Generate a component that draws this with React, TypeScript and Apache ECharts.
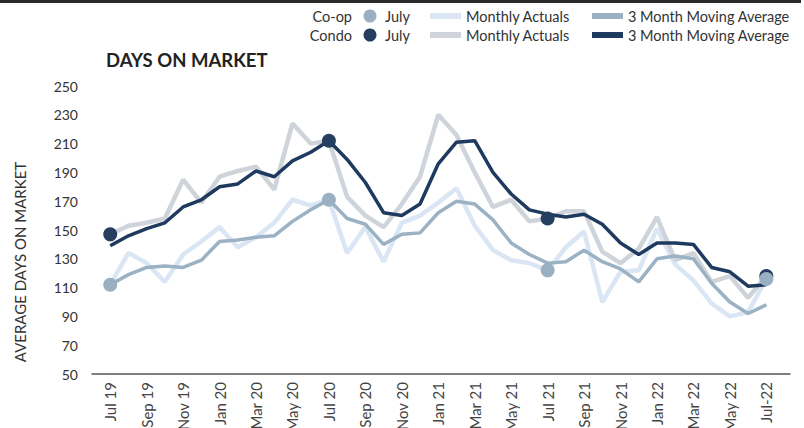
import React, { useEffect, useRef } from "react";
import * as echarts from "echarts";

const months: string[] = [
  "Jul 19","Aug 19","Sep 19","Oct 19","Nov 19","Dec 19",
  "Jan 20","Feb 20","Mar 20","Apr 20","May 20","Jun 20",
  "Jul 20","Aug 20","Sep 20","Oct 20","Nov 20","Dec 20",
  "Jan 21","Feb 21","Mar 21","Apr 21","May 21","Jun 21",
  "Jul 21","Aug 21","Sep 21","Oct 21","Nov 21","Dec 21",
  "Jan 22","Feb 22","Mar 22","Apr 22","May 22","Jun 22","Jul-22",
];

const tickLabels: string[] = [
  "Jul 19","Sep 19","Nov 19","Jan 20","Mar 20","May 20","Jul 20","Sep 20","Nov 20",
  "Jan 21","Mar 21","May 21","Jul 21","Sep 21","Nov 21","Jan 22","Mar 22","May 22","Jul-22",
];

const coopActual: number[] = [
  112, 134, 127, 114, 133, 142, 152, 138, 145, 155, 171, 167,
  171, 134, 152, 128, 155, 160, 169, 179, 153, 136, 129, 127,
  122, 138, 149, 100, 121, 122, 151, 126, 115, 99, 90, 93, 116,
];
const coopMA: number[] = [
  112, 119, 124, 125, 124, 129, 142, 143, 145, 146, 156, 164,
  171, 158, 154, 140, 147, 148, 162, 170, 168, 157, 141, 133,
  127, 128, 136, 128, 123, 114, 130, 132, 130, 113, 100, 92, 98,
];
const condoActual: number[] = [
  147, 153, 155, 158, 185, 169, 187, 191, 194, 178, 224, 210,
  212, 173, 160, 152, 168, 187, 230, 216, 190, 166, 171, 156,
  158, 163, 163, 135, 127, 137, 159, 129, 134, 114, 118, 103, 118,
];
const condoMA: number[] = [
  139, 146, 151, 155, 166, 171, 180, 182, 191, 187, 198, 204,
  212, 199, 183, 162, 160, 168, 196, 211, 212, 190, 175, 164,
  161, 159, 161, 154, 141, 133, 141, 141, 140, 124, 121, 111, 112,
];
const julyIdx: number[] = [0, 12, 24, 36];

const C_COOP_ACT = "#dbe6f4";
const C_COOP_MA = "#9bb1c4";
const C_CONDO_ACT = "#cfd4da";
const C_CONDO_MA = "#1f3a5f";
const C_COOP_DOT = "#9ab0c2";
const C_CONDO_DOT = "#263f60";
const FONT = "Lato, 'Open Sans', sans-serif";

const pairs = (arr: number[]) => arr.map((v, i) => [i, v]);

export default function App() {
  const ref = useRef<HTMLDivElement>(null);
  useEffect(() => {
    if (!ref.current) return;
    const chart = echarts.init(ref.current, null, { renderer: "svg" });
    const legendRow = (y: number, label: string, dot: string, act: string, ma: string) => [
      { type: "text", x: 352, y, style: { text: label, fill: "#333", font: `14.5px ${FONT}`, align: "right", verticalAlign: "middle" } },
      { type: "circle", shape: { cx: 370, cy: y, r: 6.5 }, style: { fill: dot } },
      { type: "text", x: 385, y, style: { text: "July", fill: "#333", font: `14.5px ${FONT}`, verticalAlign: "middle" } },
      { type: "rect", shape: { x: 430, y: y - 3, width: 31, height: 6 }, style: { fill: act } },
      { type: "text", x: 466, y, style: { text: "Monthly Actuals", fill: "#333", font: `14.5px ${FONT}`, verticalAlign: "middle" } },
      { type: "rect", shape: { x: 592, y: y - 3, width: 31, height: 6 }, style: { fill: ma } },
      { type: "text", x: 628, y, style: { text: "3 Month Moving Average", fill: "#333", font: `14.5px ${FONT}`, verticalAlign: "middle" } },
    ];
    chart.setOption({
      animation: false,
      backgroundColor: "#ffffff",
      textStyle: { fontFamily: FONT },
      grid: { left: 92, right: 14, top: 86, bottom: 54, containLabel: false, outerBoundsMode: "none" },
      xAxis: {
        type: "value",
        min: -1,
        max: 37.3,
        splitLine: { show: false },
        axisLine: { show: true, onZero: false, lineStyle: { color: "#555", width: 1.5 } },
        axisTick: { show: false },
        axisLabel: {
          customValues: tickLabels.map((_, k) => k * 2),
          rotate: 90,
          margin: 8,
          color: "#444",
          fontSize: 15,
          fontFamily: FONT,
          formatter: (v: number) => months[v] ?? "",
        },
      },
      yAxis: {
        type: "value",
        min: 50,
        max: 250,
        interval: 20,
        splitLine: { show: false },
        axisLine: { show: false },
        axisTick: { show: false },
        axisLabel: { color: "#333", fontSize: 14, margin: 14, fontFamily: FONT },
      },
      graphic: [
        { type: "rect", shape: { x: 0, y: 0, width: 801, height: 3 }, style: { fill: "#2a2a2a" } },
        { type: "text", x: 106, y: 60, style: { text: "DAYS ON MARKET", fill: "#222", font: `bold 18.5px ${FONT}`, verticalAlign: "middle" } },
        { type: "text", x: 20, y: 262, rotation: Math.PI / 2, style: { text: "AVERAGE DAYS ON MARKET", fill: "#333", font: `15px ${FONT}`, align: "center", verticalAlign: "middle" } },
        ...legendRow(16, "Co-op", C_COOP_DOT, C_COOP_ACT, C_COOP_MA),
        ...legendRow(35, "Condo", C_CONDO_DOT, C_CONDO_ACT, C_CONDO_MA),
      ],
      series: [
        { name: "Co-op Monthly Actuals", type: "line", data: pairs(coopActual), symbol: "none", lineStyle: { color: C_COOP_ACT, width: 4.5 }, z: 1 },
        { name: "Condo Monthly Actuals", type: "line", data: pairs(condoActual), symbol: "none", lineStyle: { color: C_CONDO_ACT, width: 4.5 }, z: 2 },
        { name: "Co-op 3 Month Moving Average", type: "line", data: pairs(coopMA), symbol: "none", lineStyle: { color: C_COOP_MA, width: 3.5 }, z: 3 },
        { name: "Condo 3 Month Moving Average", type: "line", data: pairs(condoMA), symbol: "none", lineStyle: { color: C_CONDO_MA, width: 3.5 }, z: 4 },
        { name: "Condo July", type: "scatter", data: julyIdx.map((i) => [i, condoActual[i]]), symbolSize: 14, itemStyle: { color: C_CONDO_DOT, opacity: 1 }, z: 5 },
        { name: "Co-op July", type: "scatter", data: julyIdx.map((i) => [i, coopActual[i]]), symbolSize: 14, itemStyle: { color: C_COOP_DOT, opacity: 1 }, z: 6 },
      ],
    });
    return () => chart.dispose();
  }, []);
  return <div ref={ref} style={{ width: 804, height: 428, position: "absolute", left: 0, top: 0 }} />;
}
